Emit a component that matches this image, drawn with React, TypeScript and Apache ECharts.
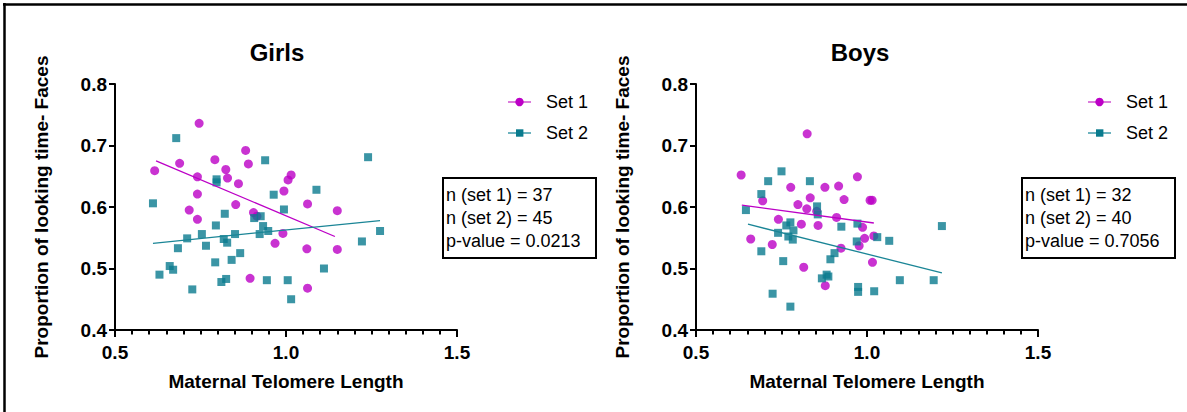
import React, { useEffect, useRef } from "react";
import * as echarts from "echarts";

const MAGENTA = "#BC00C6";
const TEAL = "#0A7B8E";
const FONT = "'Liberation Sans', Arial, Helvetica, sans-serif";

const titles = ["Girls", "Boys"];
const xTicks = [0.5, 1.0, 1.5];
const yTicks = [0.4, 0.5, 0.6, 0.7, 0.8];
const seriesNames = ["Set 1", "Set 2"];
const xAxisName = "Maternal Telomere Length";
const yAxisName = "Proportion of looking time- Faces";

const girlsSet1 = [
  [0.616, 0.659], [0.746, 0.736], [0.689, 0.671], [0.741, 0.649], [0.741, 0.621],
  [0.717, 0.595], [0.741, 0.58], [0.792, 0.677], [0.824, 0.661], [0.829, 0.647],
  [0.861, 0.638], [0.882, 0.692], [0.89, 0.67], [0.853, 0.604], [0.905, 0.591],
  [0.915, 0.585], [0.895, 0.484], [0.968, 0.541], [0.991, 0.557], [0.994, 0.626],
  [1.006, 0.644], [1.015, 0.652], [1.063, 0.605], [1.061, 0.532], [1.063, 0.468],
  [1.15, 0.594], [1.15, 0.531],
];
const girlsSet2 = [
  [0.611, 0.606], [0.679, 0.712], [0.63, 0.49], [0.66, 0.504], [0.67, 0.498],
  [0.684, 0.533], [0.711, 0.549], [0.726, 0.466], [0.754, 0.556], [0.766, 0.537],
  [0.797, 0.645], [0.797, 0.64], [0.795, 0.57], [0.793, 0.51], [0.811, 0.478],
  [0.825, 0.483], [0.821, 0.589], [0.818, 0.548], [0.828, 0.542], [0.851, 0.556],
  [0.841, 0.514], [0.866, 0.525], [0.907, 0.582], [0.926, 0.585], [0.923, 0.556],
  [0.933, 0.569], [0.948, 0.561], [0.939, 0.676], [0.964, 0.62], [0.944, 0.481],
  [0.994, 0.596], [1.005, 0.481], [1.015, 0.45], [1.089, 0.628], [1.111, 0.5],
  [1.222, 0.544], [1.24, 0.681], [1.275, 0.561],
];
const girlsFit1 = [[0.62, 0.675], [1.143, 0.552]];
const girlsFit2 = [[0.611, 0.541], [1.275, 0.578]];

const boysSet1 = [
  [0.632, 0.652], [0.66, 0.548], [0.695, 0.61], [0.723, 0.539], [0.741, 0.58],
  [0.777, 0.632], [0.798, 0.604], [0.808, 0.572], [0.815, 0.502], [0.825, 0.719],
  [0.824, 0.597], [0.834, 0.615], [0.853, 0.593], [0.857, 0.57], [0.877, 0.632],
  [0.878, 0.472], [0.911, 0.583], [0.917, 0.634], [0.924, 0.533], [0.933, 0.612],
  [0.972, 0.649], [0.977, 0.537], [0.987, 0.567], [0.993, 0.549], [1.009, 0.611],
  [1.015, 0.611], [1.02, 0.553], [1.016, 0.51],
];
const boysSet2 = [
  [0.646, 0.595], [0.691, 0.621], [0.711, 0.642], [0.691, 0.528], [0.724, 0.459],
  [0.75, 0.658], [0.74, 0.558], [0.755, 0.512], [0.764, 0.57], [0.776, 0.575],
  [0.77, 0.552], [0.785, 0.562], [0.783, 0.547], [0.776, 0.438], [0.833, 0.642],
  [0.854, 0.601], [0.856, 0.588], [0.868, 0.484], [0.882, 0.49], [0.887, 0.487],
  [0.893, 0.515], [0.905, 0.525], [0.925, 0.568], [0.97, 0.544], [0.972, 0.573],
  [0.974, 0.47], [0.974, 0.462], [1.021, 0.463], [1.03, 0.551], [1.065, 0.545],
  [1.096, 0.481], [1.195, 0.481], [1.219, 0.569],
];
const boysFit1 = [[0.634, 0.603], [1.02, 0.574]];
const boysFit2 = [[0.652, 0.572], [1.219, 0.493]];

const statLines = [
  ["n (set 1) = 37", "n (set 2) = 45", "p-value = 0.0213"],
  ["n (set 1) = 32", "n (set 2) = 40", "p-value = 0.7056"],
];

const panels = [
  { set1: girlsSet1, set2: girlsSet2, fit1: girlsFit1, fit2: girlsFit2 },
  { set1: boysSet1, set2: boysSet2, fit1: boysFit1, fit2: boysFit2 },
];

const gridLefts = [115, 696];
const titleCenters = [272, 855];
const legendX = [508, 1088];
const boxX = [443, 1022];

export default function App() {
  const ref = useRef<HTMLDivElement>(null);
  useEffect(() => {
    if (!ref.current) return;
    const chart = echarts.init(ref.current, null, { renderer: "svg" });

    const grid = gridLefts.map((l) => ({ left: l, top: 84, width: 342, height: 246 }));
    const xAxis = gridLefts.map((_, i) => ({
      type: "value",
      gridIndex: i,
      min: xTicks[0],
      max: xTicks[xTicks.length - 1],
      interval: 0.5,
      name: xAxisName,
      nameLocation: "middle",
      nameGap: 42,
      nameTextStyle: { fontFamily: FONT, fontWeight: "bold", fontSize: 19, color: "#000" },
      axisLine: { show: true, onZero: false, lineStyle: { color: "#000", width: 2 } },
      axisTick: { show: true, length: 7, lineStyle: { color: "#000", width: 2 } },
      minorTick: { show: true, splitNumber: 10, length: 4.5, lineStyle: { color: "#000", width: 2 } },
      splitLine: { show: false },
      axisLabel: {
        margin: 13,
        fontFamily: FONT,
        fontWeight: "bold",
        fontSize: 19,
        color: "#000",
        formatter: (v: number) => v.toFixed(1),
      },
    }));
    const yAxis = gridLefts.map((_, i) => ({
      type: "value",
      gridIndex: i,
      min: yTicks[0],
      max: yTicks[yTicks.length - 1],
      interval: 0.1,
      name: yAxisName,
      nameLocation: "middle",
      nameGap: 64,
      nameTextStyle: { fontFamily: FONT, fontWeight: "bold", fontSize: 19, color: "#000" },
      axisLine: { show: true, onZero: false, lineStyle: { color: "#000", width: 2 } },
      axisTick: { show: true, length: 6, lineStyle: { color: "#000", width: 2 } },
      splitLine: { show: false },
      axisLabel: {
        margin: 8,
        fontFamily: FONT,
        fontWeight: "bold",
        fontSize: 19,
        color: "#000",
        formatter: (v: number) => v.toFixed(1),
      },
    }));

    const series: any[] = [];
    panels.forEach((p, i) => {
      series.push({
        type: "scatter", name: seriesNames[0], xAxisIndex: i, yAxisIndex: i,
        data: p.set1, symbol: "circle", symbolSize: 9, itemStyle: { color: MAGENTA },
      });
      series.push({
        type: "scatter", name: seriesNames[1], xAxisIndex: i, yAxisIndex: i,
        data: p.set2, symbol: "rect", symbolSize: 8, itemStyle: { color: TEAL },
      });
      series.push({
        type: "line", xAxisIndex: i, yAxisIndex: i, data: p.fit1, showSymbol: false,
        lineStyle: { color: MAGENTA, width: 1.3 }, z: 3,
      });
      series.push({
        type: "line", xAxisIndex: i, yAxisIndex: i, data: p.fit2, showSymbol: false,
        lineStyle: { color: "#1A8596", width: 1.3 }, z: 3,
      });
    });

    const graphic: any[] = [
      { type: "line", shape: { x1: 3, y1: 4.5, x2: 1187, y2: 4.5 }, style: { stroke: "#000", lineWidth: 2.5 } },
      { type: "line", shape: { x1: 4.5, y1: 3, x2: 4.5, y2: 412 }, style: { stroke: "#000", lineWidth: 2.5 } },
    ];
    legendX.forEach((lx) => {
      const ys = [102, 133];
      graphic.push(
        { type: "line", shape: { x1: lx, y1: ys[0], x2: lx + 23, y2: ys[0] }, style: { stroke: "#D050D0", lineWidth: 1.5 } },
        { type: "circle", shape: { cx: lx + 11.5, cy: ys[0], r: 4.2 }, style: { fill: MAGENTA } },
        { type: "text", x: lx + 38, y: ys[0], style: { text: seriesNames[0], font: `18px ${FONT}`, fill: "#000", verticalAlign: "middle" } },
        { type: "line", shape: { x1: lx, y1: ys[1], x2: lx + 23, y2: ys[1] }, style: { stroke: "#3C9AAA", lineWidth: 1.5 } },
        { type: "rect", shape: { x: lx + 8, y: ys[1] - 3.7, width: 7.4, height: 7.4 }, style: { fill: TEAL } },
        { type: "text", x: lx + 38, y: ys[1], style: { text: seriesNames[1], font: `18px ${FONT}`, fill: "#000", verticalAlign: "middle" } },
      );
    });
    boxX.forEach((bx, i) => {
      graphic.push({
        type: "rect", shape: { x: bx, y: 178, width: 153, height: 80 },
        style: { fill: "#fff", stroke: "#000", lineWidth: 2 },
      });
      statLines[i].forEach((t, j) => {
        graphic.push({
          type: "text", x: bx + 3, y: 195 + j * 23,
          style: { text: t, font: `18px ${FONT}`, fill: "#000", verticalAlign: "middle" },
        });
      });
    });

    chart.setOption({
      animation: false,
      backgroundColor: "#fff",
      title: titles.map((t, i) => ({
        text: t,
        left: titleCenters[i],
        top: 35,
        textAlign: "center",
        textStyle: { fontFamily: FONT, fontWeight: "bold", fontSize: 24, color: "#000" },
      })),
      grid,
      xAxis,
      yAxis,
      series,
      graphic,
    });
    return () => chart.dispose();
  }, []);
  return (
    <div
      ref={ref}
      style={{ position: "absolute", left: 0, top: 0, width: 1187, height: 412 }}
    />
  );
}
